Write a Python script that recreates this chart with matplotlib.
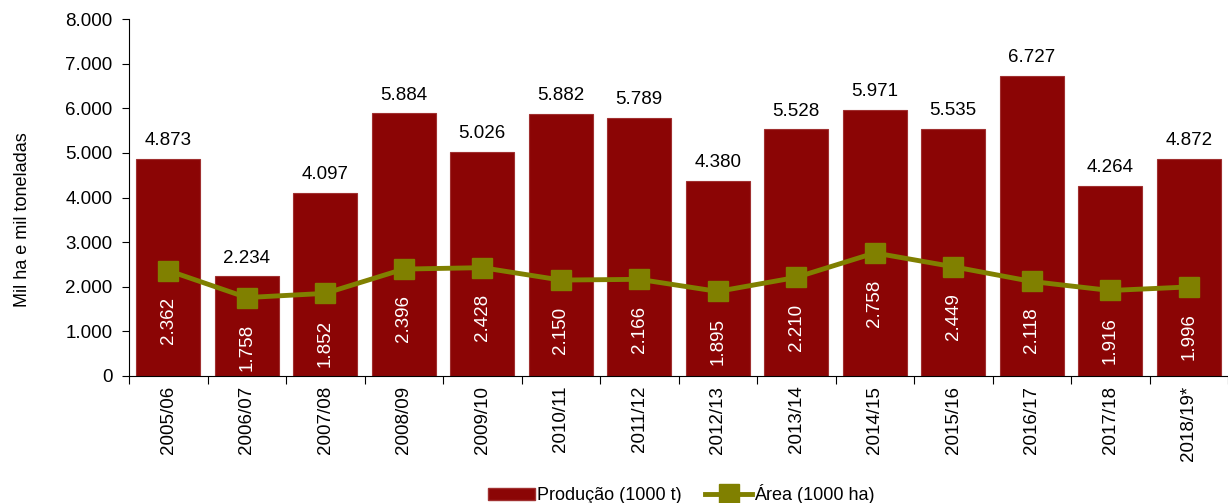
import numpy as np
import matplotlib.pyplot as plt
from matplotlib.lines import Line2D
from matplotlib.patches import Patch

plt.rcParams['font.family'] = ['Liberation Sans', 'DejaVu Sans']

safras = ['2005/06', '2006/07', '2007/08', '2008/09', '2009/10', '2010/11', '2011/12',
          '2012/13', '2013/14', '2014/15', '2015/16', '2016/17', '2017/18', '2018/19*']
producao = [4873, 2234, 4097, 5884, 5026, 5882, 5789, 4380, 5528, 5971, 5535, 6727, 4264, 4872]
area = [2362, 1758, 1852, 2396, 2428, 2150, 2166, 1895, 2210, 2758, 2449, 2118, 1916, 1996]


def fmt(v):
    return '{:,}'.format(int(v)).replace(',', '.')


fig = plt.figure(figsize=(12.28, 5.03), dpi=100)
fig.patch.set_facecolor('white')
ax = fig.add_axes([129/1228, 1-376/503, 1-129/1228, (376-19)/503])

x = np.arange(len(safras))
ax.bar(x, producao, width=0.82, color='#8b0505', edgecolor='#a03030', linewidth=0.8, zorder=2)
ax.plot(x, area, color='#808000', linewidth=3.5, marker='s', markersize=15,
        markerfacecolor='#808000', markeredgecolor='#808000', zorder=3)

for xi, p, a in zip(x, producao, area):
    ax.annotate(fmt(p), (xi, p), xytext=(0, 7), textcoords='offset points',
                ha='center', va='bottom', fontsize=13.5)
    ax.annotate(fmt(a), (xi, a), xytext=(0, -19), textcoords='offset points',
                ha='center', va='top', rotation=90, fontsize=13.5, color='white', zorder=4)

ax.set_xlim(-0.5, 13.36)
ax.set_ylim(0, 8000)
ax.set_yticks(np.arange(0, 8001, 1000))
ax.set_yticklabels([fmt(v) for v in np.arange(0, 8001, 1000)], fontsize=13.5)
ax.set_xticks(np.arange(-0.5, 13.6, 1), minor=False)
ax.set_xticklabels([])
ax.set_xticks(x, minor=True)
ax.set_xticklabels(safras, minor=True, rotation=90, fontsize=13.5)
ax.tick_params(axis='x', which='minor', length=0, pad=7)
ax.tick_params(axis='x', which='major', length=6, direction='out')
ax.tick_params(axis='y', length=5, direction='out', pad=7)
ax.spines['top'].set_visible(False)
ax.spines['right'].set_visible(False)
ax.set_ylabel('Mil ha e mil toneladas', fontsize=13)
ax.yaxis.set_label_coords(-0.089, 0.437)

handles = [Patch(facecolor='#8b0505', edgecolor='#a03030'),
           Line2D([], [], color='#808000', linewidth=3.5, marker='s', markersize=14)]
fig.legend(handles, ['Produção (1000 t)', 'Área (1000 ha)'], loc='lower center',
           bbox_to_anchor=(0.555, -0.035), ncol=2, frameon=False, fontsize=13,
           handlelength=2.6, handletextpad=0.1, columnspacing=1.3)

fig.savefig('out.png', dpi=100)
